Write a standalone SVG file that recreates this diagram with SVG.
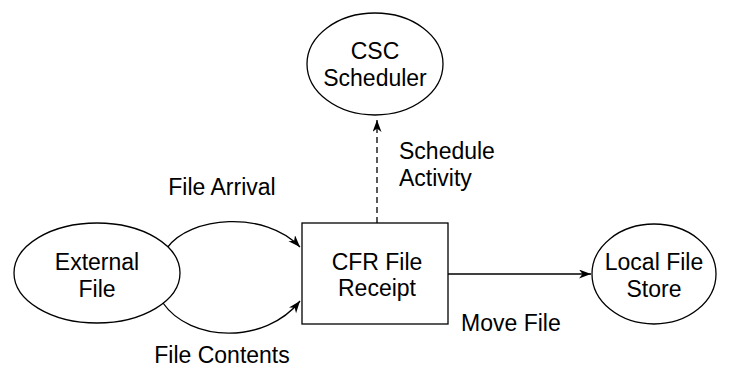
<svg xmlns="http://www.w3.org/2000/svg" width="729" height="385" viewBox="0 0 729 385">
<style>
.shape{fill:#fff;stroke:#000;stroke-width:1.3}
.t{font-family:"Liberation Sans",Arial,sans-serif;font-size:23px;fill:#000}
.c{fill:none;stroke:#000;stroke-width:1.3}
</style>
<defs>
<marker id="arr" markerUnits="userSpaceOnUse" markerWidth="13" markerHeight="10" refX="12" refY="4.5" orient="auto">
<path d="M0,0 L12,4.5 L0,9 L3.5,4.5 z" fill="#000"/>
</marker>
</defs>
<rect width="729" height="385" fill="#fff"/>
<g id="connectors">
<path class="c" d="M167,248 C190,216 265,210 300,247" marker-end="url(#arr)"/>
<path class="c" d="M163,303 C190,342 265,345 300,301" marker-end="url(#arr)"/>
<path class="c" d="M377,223 L377,120" stroke-dasharray="6,4" stroke-width="1.6" marker-end="url(#arr)"/>
<path class="c" d="M448,274 L591,274" marker-end="url(#arr)"/>
</g>
<g id="external-file">
<ellipse class="shape" cx="97" cy="273" rx="83" ry="50"/>
<text class="t" x="97" y="270" text-anchor="middle">External</text>
<text class="t" x="97" y="297" text-anchor="middle">File</text>
</g>
<g id="cfr-file-receipt">
<rect class="shape" x="302" y="223" width="146" height="101"/>
<text class="t" x="377" y="270" text-anchor="middle">CFR File</text>
<text class="t" x="377" y="296" text-anchor="middle">Receipt</text>
</g>
<g id="csc-scheduler">
<ellipse class="shape" cx="375" cy="64" rx="68" ry="51"/>
<text class="t" x="375" y="59" text-anchor="middle">CSC</text>
<text class="t" x="375" y="86" text-anchor="middle">Scheduler</text>
</g>
<g id="local-file-store">
<ellipse class="shape" cx="654" cy="274" rx="62" ry="50"/>
<text class="t" x="654" y="270" text-anchor="middle">Local File</text>
<text class="t" x="654" y="297" text-anchor="middle">Store</text>
</g>
<g id="labels">
<text class="t" x="222" y="195" text-anchor="middle">File Arrival</text>
<text class="t" x="222" y="363" text-anchor="middle">File Contents</text>
<text class="t" x="399" y="159">Schedule</text>
<text class="t" x="399" y="186">Activity</text>
<text class="t" x="461" y="331">Move File</text>
</g>
</svg>
